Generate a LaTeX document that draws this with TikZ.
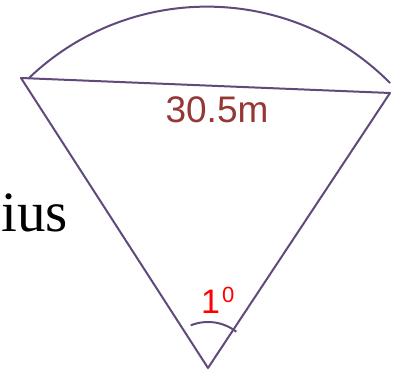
\documentclass[tikz,border=0pt]{standalone}
\usepackage{fontspec}
\usetikzlibrary{positioning,calc}
\newfontfamily\labelfont{Liberation Sans}
\newfontfamily\wordfont{Liberation Serif}
\definecolor{linecol}{RGB}{96,74,123}
\definecolor{chordred}{RGB}{149,55,53}

\begin{document}
\begin{tikzpicture}[
    x=1pt, y=1pt,
    edge/.style={draw=linecol, line width=2pt, line join=round},
    lengthlabel/.style={font=\labelfont\fontsize{37}{37}\selectfont, text=chordred, inner sep=0pt},
    anglelabel/.style={font=\labelfont\fontsize{34}{34}\selectfont, text=red, inner sep=0pt},
    wordlabel/.style={font=\wordfont\fontsize{57}{57}\selectfont, text=black, inner sep=0pt}
]

\useasboundingbox (0,0) rectangle (398,371);

\coordinate (left) at (21,293);
\coordinate (right) at (390,278);
\coordinate (apex) at (208,3);
\coordinate (arcstart) at (29,293);

% sector sides and chord
\draw[edge] (left) -- (right) -- (apex) -- cycle;

% outer arc
\draw[edge] (arcstart) arc[start angle=133.7, end angle=44.7, radius=257.6];

% angle mark
\draw[edge] (apex) ++(112:46) arc[start angle=112, end angle=52, radius=46];

\node[lengthlabel, anchor=base] (chord) at (217,248) {30.5m};
\node[anglelabel, anchor=base west] (angle) at (201,57) {1\kern2pt\raisebox{11pt}{\fontsize{22}{22}\selectfont 0}};
\node[wordlabel, anchor=base west] (radius) at (1,139) {ius};

\end{tikzpicture}
\end{document}
